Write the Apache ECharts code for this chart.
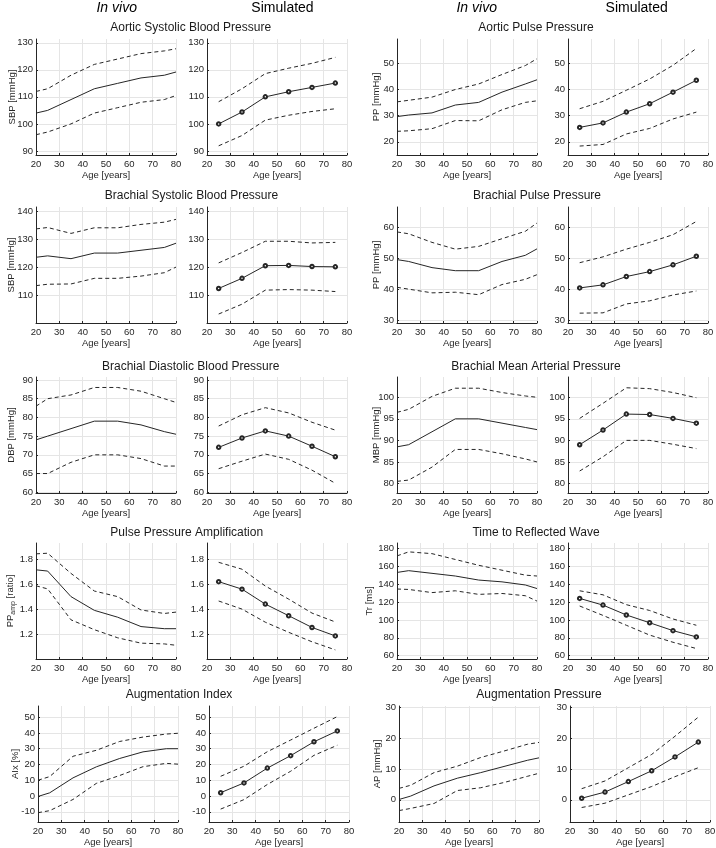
<!DOCTYPE html>
<html><head><meta charset="utf-8">
<script src="https://cdn.jsdelivr.net/npm/echarts@6/dist/echarts.min.js"></script>
<style>html,body{margin:0;padding:0;background:#fff}#c{width:716px;height:848px}</style>
</head><body><div id="c"></div>
<script>
// ---------- DATA ----------
const agesVivo = [20, 25, 35, 45, 55, 65, 75, 80];
const agesSim = [25, 35, 45, 55, 65, 75];

// Aortic systolic blood pressure
const aorticSBP_vivo_mean  = [104, 105, 109, 113, 115, 117, 118, 119.2];
const aorticSBP_vivo_upper = [112, 113, 118, 122, 124, 126, 127, 127.8];
const aorticSBP_vivo_lower = [96, 97, 100, 104, 106, 108, 109, 110.5];
const aorticSBP_sim_mean   = [100, 104.4, 110, 111.9, 113.5, 115.1];
const aorticSBP_sim_upper  = [108.2, 113, 118.6, 120.6, 122.4, 124.6];
const aorticSBP_sim_lower  = [91.9, 95.7, 101.4, 103.2, 104.6, 105.6];
const aorticSBP_ticks = [90, 100, 110, 120, 130];
const aorticSBP_range = [88.5, 131.4];

// Aortic pulse pressure
const aorticPP_vivo_mean  = [29.6, 30.2, 31, 34, 35, 38.9, 42, 43.6];
const aorticPP_vivo_upper = [35.2, 35.8, 37, 39.9, 42, 45.6, 49, 51.6];
const aorticPP_vivo_lower = [24, 24.2, 25, 28.1, 28, 32.2, 35, 35.6];
const aorticPP_sim_mean   = [25.5, 27.2, 31.3, 34.5, 38.9, 43.4];
const aorticPP_sim_upper  = [32.6, 35.4, 39.6, 43.9, 49.1, 55.5];
const aorticPP_sim_lower  = [18.4, 19, 23, 25.1, 28.7, 31.3];
const aorticPP_ticks = [20, 30, 40, 50];
const aorticPP_range = [15.0, 59.1];

// Brachial systolic blood pressure
const brachialSBP_vivo_mean  = [123.5, 124, 123, 125, 125, 126, 127, 128.5];
const brachialSBP_vivo_upper = [133.6, 134.1, 132, 134, 134, 135.2, 136, 137];
const brachialSBP_vivo_lower = [113.4, 113.9, 114, 116, 116, 116.8, 118, 120];
const brachialSBP_sim_mean   = [112.4, 116, 120.5, 120.6, 120.2, 120.1];
const brachialSBP_sim_upper  = [121.5, 125.2, 129.2, 129.2, 128.6, 128.8];
const brachialSBP_sim_lower  = [103.3, 106.8, 111.8, 112, 111.8, 111.3];
const brachialSBP_ticks = [110, 120, 130, 140];
const brachialSBP_range = [100.1, 141.4];

// Brachial pulse pressure
const brachialPP_vivo_mean  = [49.6, 49, 47, 46, 46, 49, 51, 53.1];
const brachialPP_vivo_upper = [58.6, 58, 55.2, 53, 53.9, 56.4, 58.8, 61.5];
const brachialPP_vivo_lower = [40.6, 40, 38.8, 39, 38.2, 41.5, 43.2, 44.7];
const brachialPP_sim_mean   = [40.4, 41.4, 44.1, 45.7, 47.9, 50.7];
const brachialPP_sim_upper  = [48.6, 50.5, 53, 55.2, 57.7, 62];
const brachialPP_sim_lower  = [32.2, 32.3, 35.2, 36.2, 38.1, 39.4];
const brachialPP_ticks = [30, 40, 50, 60];
const brachialPP_range = [29.0, 66.7];

// Brachial diastolic blood pressure
const brachialDBP_vivo_mean  = [74, 75, 77, 79, 79, 78, 76.2, 75.5];
const brachialDBP_vivo_upper = [83, 85, 86, 88, 88, 87, 85, 84];
const brachialDBP_vivo_lower = [65, 65, 68, 70, 70, 69, 67, 67];
const brachialDBP_sim_mean   = [72, 74.5, 76.4, 75, 72.3, 69.5];
const brachialDBP_sim_upper  = [77.7, 80.7, 82.6, 81.2, 78.7, 76.6];
const brachialDBP_sim_lower  = [66.3, 68.3, 70.2, 68.8, 65.9, 62.4];
const brachialDBP_ticks = [60, 65, 70, 75, 80, 85, 90];
const brachialDBP_range = [59.8, 90.8];

// Brachial mean arterial pressure
const brachialMAP_vivo_mean  = [88.5, 89, 92, 95, 95, 94, 93, 92.5];
const brachialMAP_vivo_upper = [96.5, 97.2, 100.2, 102.1, 102.1, 101.1, 100.3, 100];
const brachialMAP_vivo_lower = [80.5, 80.8, 83.8, 87.9, 87.9, 86.9, 85.7, 85];
const brachialMAP_sim_mean   = [89, 92.4, 96.1, 96, 95.1, 94];
const brachialMAP_sim_upper  = [95.1, 98.6, 102.2, 102, 101.1, 99.9];
const brachialMAP_sim_lower  = [82.9, 86.2, 90, 90, 89.1, 88.1];
const brachialMAP_ticks = [80, 85, 90, 95, 100];
const brachialMAP_range = [77.8, 104.7];

// Pulse pressure amplification
const ppAmp_vivo_mean  = [1.715, 1.705, 1.5, 1.39, 1.335, 1.26, 1.243, 1.243];
const ppAmp_vivo_upper = [1.843, 1.848, 1.686, 1.545, 1.5, 1.393, 1.365, 1.376];
const ppAmp_vivo_lower = [1.587, 1.562, 1.314, 1.235, 1.17, 1.127, 1.121, 1.11];
const ppAmp_sim_mean   = [1.62, 1.56, 1.44, 1.347, 1.253, 1.185];
const ppAmp_sim_upper  = [1.775, 1.72, 1.585, 1.48, 1.368, 1.297];
const ppAmp_sim_lower  = [1.465, 1.4, 1.295, 1.214, 1.138, 1.073];
const ppAmp_ticks = [1.2, 1.4, 1.6, 1.8];
const ppAmp_range = [1.0, 1.93];

// Time to reflected wave
const tr_vivo_mean  = [153, 155, 152, 149, 144.5, 142.5, 139, 135];
const tr_vivo_upper = [171.5, 176, 174, 167.5, 161, 155.5, 150, 149];
const tr_vivo_lower = [134.5, 134, 130.5, 132.5, 128.5, 129.5, 127, 121];
const tr_sim_mean   = [124, 116.5, 105.5, 96.8, 88, 81];
const tr_sim_upper  = [132.5, 128, 117, 110.5, 101, 94];
const tr_sim_lower  = [115.5, 105, 94, 83, 75, 68];
const tr_ticks = [60, 80, 100, 120, 140, 160, 180];
const tr_range = [56.3, 185.9];

// Augmentation index
const aix_vivo_mean  = [-0.3, 2, 11.5, 18.5, 23.8, 28, 30, 30];
const aix_vivo_upper = [10, 12.3, 25.2, 29, 34.6, 37.4, 39.3, 39.8];
const aix_vivo_lower = [-10.6, -9.3, -2.2, 8, 13, 18.6, 20.7, 20.2];
const aix_sim_mean   = [2.1, 8.3, 17.7, 25.6, 34.4, 41.3];
const aix_sim_upper  = [12.5, 18.9, 28.1, 35.5, 43, 50.4];
const aix_sim_lower  = [-8.3, -2.3, 7.3, 15.7, 25.8, 32.2];
const aix_ticks = [-10, 0, 10, 20, 30, 40, 50];
const aix_range = [-16.5, 57.1];

// Augmentation pressure
const ap_vivo_mean  = [0.1, 1.2, 4.5, 7, 8.8, 10.8, 12.8, 13.6];
const ap_vivo_upper = [3.7, 4.7, 8.8, 10.9, 13.7, 15.8, 18, 18.6];
const ap_vivo_lower = [-3.5, -2.8, -1.2, 3, 3.9, 5.6, 7.6, 8.6];
const ap_sim_mean   = [0.5, 2.5, 5.9, 9.4, 13.9, 18.7];
const ap_sim_upper  = [3.6, 6.1, 10.4, 14.7, 20.6, 26.8];
const ap_sim_lower  = [-2.5, -1.1, 1.6, 4.3, 7.5, 10.4];
const ap_ticks = [0, 10, 20, 30];
const ap_range = [-7.2, 30.4];

const rowTitlesLeft  = ['Aortic Systolic Blood Pressure', 'Brachial Systolic Blood Pressure', 'Brachial Diastolic Blood Pressure', 'Pulse Pressure Amplification', 'Augmentation Index'];
const rowTitlesRight = ['Aortic Pulse Pressure', 'Brachial Pulse Pressure', 'Brachial Mean Arterial Pressure', 'Time to Reflected Wave', 'Augmentation Pressure'];
const colHeaders = ['In vivo', 'Simulated', 'In vivo', 'Simulated'];

// ---------- LAYOUT / STYLE ----------
const FONT = '"Liberation Sans", Arial, Helvetica, sans-serif';
const AX = '#262626';
const GRIDC = '#e5e5e5';
const LINEC = '#262626';
const TICKFS = 9.5;

const colX = [36, 207, 397, 568];
const rowY = [39, 207, 377, 543, 706];
const rowShift = [0, 0, 0, 0, 2];
const plotW = 140, plotH = 116;

const metrics = [
  // [row, half(0 left pair,1 right pair), prefix, yName, nameGap]
  [0, 0, 'aorticSBP', 'SBP [mmHg]', 19],
  [0, 1, 'aorticPP', 'PP [mmHg]', 16],
  [1, 0, 'brachialSBP', 'SBP [mmHg]', 20],
  [1, 1, 'brachialPP', 'PP [mmHg]', 16],
  [2, 0, 'brachialDBP', 'DBP [mmHg]', 20],
  [2, 1, 'brachialMAP', 'MBP [mmHg]', 16],
  [3, 0, 'ppAmp', '{a|PP}{b|amp}{a| [ratio]}', 19],
  [3, 1, 'tr', 'Tr [ms]', 23],
  [4, 0, 'aix', 'AIx [%]', 18],
  [4, 1, 'ap', 'AP [mmHg]', 17]
];
const store = {
  aorticSBP: [aorticSBP_vivo_mean, aorticSBP_vivo_upper, aorticSBP_vivo_lower, aorticSBP_sim_mean, aorticSBP_sim_upper, aorticSBP_sim_lower, aorticSBP_ticks, aorticSBP_range],
  aorticPP: [aorticPP_vivo_mean, aorticPP_vivo_upper, aorticPP_vivo_lower, aorticPP_sim_mean, aorticPP_sim_upper, aorticPP_sim_lower, aorticPP_ticks, aorticPP_range],
  brachialSBP: [brachialSBP_vivo_mean, brachialSBP_vivo_upper, brachialSBP_vivo_lower, brachialSBP_sim_mean, brachialSBP_sim_upper, brachialSBP_sim_lower, brachialSBP_ticks, brachialSBP_range],
  brachialPP: [brachialPP_vivo_mean, brachialPP_vivo_upper, brachialPP_vivo_lower, brachialPP_sim_mean, brachialPP_sim_upper, brachialPP_sim_lower, brachialPP_ticks, brachialPP_range],
  brachialDBP: [brachialDBP_vivo_mean, brachialDBP_vivo_upper, brachialDBP_vivo_lower, brachialDBP_sim_mean, brachialDBP_sim_upper, brachialDBP_sim_lower, brachialDBP_ticks, brachialDBP_range],
  brachialMAP: [brachialMAP_vivo_mean, brachialMAP_vivo_upper, brachialMAP_vivo_lower, brachialMAP_sim_mean, brachialMAP_sim_upper, brachialMAP_sim_lower, brachialMAP_ticks, brachialMAP_range],
  ppAmp: [ppAmp_vivo_mean, ppAmp_vivo_upper, ppAmp_vivo_lower, ppAmp_sim_mean, ppAmp_sim_upper, ppAmp_sim_lower, ppAmp_ticks, ppAmp_range],
  tr: [tr_vivo_mean, tr_vivo_upper, tr_vivo_lower, tr_sim_mean, tr_sim_upper, tr_sim_lower, tr_ticks, tr_range],
  aix: [aix_vivo_mean, aix_vivo_upper, aix_vivo_lower, aix_sim_mean, aix_sim_upper, aix_sim_lower, aix_ticks, aix_range],
  ap: [ap_vivo_mean, ap_vivo_upper, ap_vivo_lower, ap_sim_mean, ap_sim_upper, ap_sim_lower, ap_ticks, ap_range]
};

const grids = [], xAxes = [], yAxes = [], series = [];
const pair = (xs, ys) => xs.map((x, i) => [x, ys[i]]);

metrics.forEach(([row, half, key, yName, gap]) => {
  const d = store[key];
  for (let s = 0; s < 2; s++) {
    const col = half * 2 + s;
    const idx = grids.length;
    const ticks = d[6], range = d[7];
    grids.push({ left: colX[col] + rowShift[row], top: rowY[row], width: plotW, height: plotH, outerBoundsMode: 'none', containLabel: false });
    xAxes.push({
      gridIndex: idx, type: 'value', min: 20, max: 80, interval: 10,
      axisLine: { show: true, onZero: false, lineStyle: { color: AX, width: 1 } },
      axisTick: { show: true, inside: true, length: 2, lineStyle: { color: AX } },
      axisLabel: { fontSize: TICKFS, color: AX, margin: 4, fontFamily: FONT, showMinLabel: true, showMaxLabel: true },
      splitLine: { show: true, lineStyle: { color: GRIDC, width: 1 } },
      name: 'Age [years]', nameLocation: 'middle', nameGap: 15, nameMoveOverlap: false,
      nameTextStyle: { fontSize: TICKFS, color: AX, fontFamily: FONT }
    });
    const y = {
      gridIndex: idx, type: 'value', min: range[0], max: range[1],
      axisLine: { show: true, onZero: false, lineStyle: { color: AX, width: 1 } },
      axisTick: { show: true, inside: true, length: 2, customValues: ticks, lineStyle: { color: AX } },
      axisLabel: { customValues: ticks, fontSize: TICKFS, color: AX, margin: 3, fontFamily: FONT },
      splitLine: { show: true, lineStyle: { color: GRIDC, width: 1 } }
    };
    if (s === 0) {
      y.name = yName; y.nameLocation = 'middle'; y.nameGap = gap; y.nameMoveOverlap = false;
      y.nameTextStyle = { fontSize: TICKFS, color: AX, fontFamily: FONT,
        rich: { a: { fontSize: TICKFS, color: AX, fontFamily: FONT, lineHeight: 13, verticalAlign: 'middle' },
                b: { fontSize: 7, color: AX, fontFamily: FONT, lineHeight: 13, verticalAlign: 'bottom' } } };
    }
    yAxes.push(y);
    const ages = s === 0 ? agesVivo : agesSim;
    const base = s * 3;
    const common = { type: 'line', xAxisIndex: idx, yAxisIndex: idx, silent: true, animation: false, smooth: false };
    series.push(Object.assign({}, common, {
      data: pair(ages, d[base]), z: 4,
      lineStyle: { color: LINEC, width: 1 },
      symbol: s === 1 ? 'emptyCircle' : 'none', symbolSize: 3.5, showSymbol: s === 1,
      itemStyle: { color: LINEC, borderColor: LINEC, borderWidth: 0.9 }
    }));
    [d[base + 1], d[base + 2]].forEach(arr => series.push(Object.assign({}, common, {
      data: pair(ages, arr), z: 3, symbol: 'none', showSymbol: false,
      lineStyle: { color: LINEC, width: 1, type: [4, 3] }
    })));
  }
});

// titles
const graphics = [];
const headerX = [116.7, 282.5, 476.7, 636.7];
colHeaders.forEach((t, i) => graphics.push({ type: 'text', x: headerX[i], y: 8,
  style: { text: t, fontSize: 14, fontStyle: i % 2 === 0 ? 'italic' : 'normal', fontFamily: FONT, fill: '#000', align: 'center', verticalAlign: 'middle' } }));
const titleY = [27.3, 196, 367, 532.3, 695];
const titleLX = [190.7, 191.5, 190.7, 186.7, 179];
const titleRX = [536, 537, 536, 536, 539];
for (let r = 0; r < 5; r++) {
  graphics.push({ type: 'text', x: titleLX[r], y: titleY[r], style: { text: rowTitlesLeft[r], fontSize: 12, fontFamily: FONT, fill: '#1a1a1a', align: 'center', verticalAlign: 'middle' } });
  graphics.push({ type: 'text', x: titleRX[r], y: titleY[r], style: { text: rowTitlesRight[r], fontSize: 12, fontFamily: FONT, fill: '#1a1a1a', align: 'center', verticalAlign: 'middle' } });
}

const chart = echarts.init(document.getElementById('c'), null, { renderer: 'canvas' });
chart.setOption({
  backgroundColor: '#fff',
  animation: false,
  textStyle: { fontFamily: FONT },
  grid: grids, xAxis: xAxes, yAxis: yAxes, series: series, graphic: graphics
});
</script></body></html>
